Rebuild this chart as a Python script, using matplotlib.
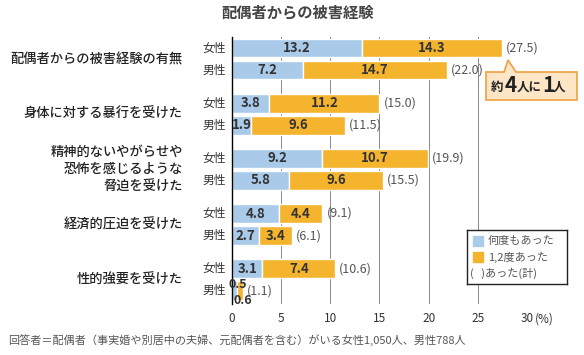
import matplotlib.pyplot as plt
from matplotlib.patches import Polygon, Rectangle

plt.rcParams['font.family'] = ['Noto Sans CJK JP', 'DejaVu Sans']

# --- データ ---
categories = ['配偶者からの被害経験の有無', '身体に対する暴行を受けた',
              '精神的ないやがらせや\n恐怖を感じるような\n脅迫を受けた',
              '経済的圧迫を受けた', '性的強要を受けた']
female_many = [13.2, 3.8, 9.2, 4.8, 3.1]
female_once = [14.3, 11.2, 10.7, 4.4, 7.4]
female_total = ['27.5', '15.0', '19.9', '9.1', '10.6']
male_many = [7.2, 1.9, 5.8, 2.7, 0.5]
male_once = [14.7, 9.6, 9.6, 3.4, 0.6]
male_total = ['22.0', '11.5', '15.5', '6.1', '1.1']
xticks = [0, 5, 10, 15, 20, 25, 30]
xticklabels = ['0', '5', '10', '15', '20', '25', '30']

BLUE = '#a9cbe9'
ORANGE = '#f5b42e'
TXT = '#333333'
GRAY = '#555555'

fig = plt.figure(figsize=(5.84, 3.55), dpi=100)
ax = fig.add_axes([232 / 584, 1 - 304 / 355, 295 / 584, 267 / 355])

H = 0.34
for i in range(len(categories)):
    for sex, many, once, tot, off in [('女性', female_many[i], female_once[i], female_total[i], -0.2),
                                      ('男性', male_many[i], male_once[i], male_total[i], 0.2)]:
        y = i + off
        ax.barh(y, many, height=H, color=BLUE, edgecolor='white', linewidth=1, zorder=2)
        ax.barh(y, once, left=many, height=H, color=ORANGE, edgecolor='white', linewidth=1, zorder=2)
        if many >= 1.5:
            ax.text(many / 2, y, f'{many}', ha='center', va='center', fontsize=9.5,
                    fontweight='bold', color=TXT, zorder=3)
            ax.text(many + once / 2, y, f'{once}', ha='center', va='center', fontsize=9.5,
                    fontweight='bold', color=TXT, zorder=3)
        else:
            # 小さい値は上下にずらして表示
            ax.text(many + 0.05, y - 0.12, f'{many}', ha='center', va='center', fontsize=9,
                    fontweight='bold', color=TXT, zorder=3)
            ax.text(many + once / 2 + 0.3, y + 0.17, f'{once}', ha='center', va='center',
                    fontsize=9, fontweight='bold', color=TXT, zorder=3)
        ax.text(many + once + 0.4, y, f'({tot})', ha='left', va='center', fontsize=9,
                color=GRAY, zorder=3)
        ax.text(-0.6, y, sex, ha='right', va='center', fontsize=8.5, color=TXT)
    ax.text(-5.0, i, categories[i], ha='right', va='center', fontsize=9.5,
            color='#222222', linespacing=1.35, fontweight='medium')

ax.set_xlim(0, 30)
ax.set_ylim(4.44, -0.4)
ax.set_yticks([])
ax.set_xticks(xticks)
ax.set_xticklabels(xticklabels, fontsize=8.5, color=TXT)
ax.tick_params(axis='x', length=0, pad=6)
ax.annotate('(%)', xy=(30, 0), xycoords=('data', 'axes fraction'),
            xytext=(6, -6), textcoords='offset points', ha='left', va='top',
            fontsize=8.5, color=TXT, annotation_clip=False)
for s in ['top', 'right', 'bottom']:
    ax.spines[s].set_visible(False)
ax.spines['left'].set_color('black')
ax.spines['left'].set_linewidth(1)
for x in xticks[1:]:
    ax.axvline(x, color='#888888', linewidth=0.7, zorder=1)

# 凡例
leg = fig.add_axes([467 / 584, 1 - 284 / 355, 100 / 584, 54 / 355])
leg.set_xlim(0, 100)
leg.set_ylim(54, 0)
leg.set_xticks([])
leg.set_yticks([])
for s in leg.spines.values():
    s.set_linewidth(1)
    s.set_color('#222222')
leg.add_patch(Rectangle((6, 6), 10, 10, color=BLUE))
leg.text(21, 11, '何度もあった', va='center', fontsize=8, color=GRAY)
leg.add_patch(Rectangle((6, 22), 10, 10, color=ORANGE))
leg.text(21, 27, '1,2度あった', va='center', fontsize=8, color=GRAY)
leg.text(3, 43, '(   )あった(計)', va='center', fontsize=8, color=GRAY)

# 吹き出し
pts = [(486, 72), (504, 72), (508, 60), (516, 72), (577, 72), (577, 100), (486, 100)]
fig.add_artist(Polygon([(px / 584, 1 - py / 355) for px, py in pts], closed=True,
                       facecolor='#fde6c6', edgecolor='#f0a040', linewidth=1.2,
                       transform=fig.transFigure))
fy = 1 - 87 / 355
fig.text(491 / 584, fy, '約', fontsize=9, fontweight='bold', color='#222222', va='center')
fig.text(505 / 584, fy + 0.004, '4', fontsize=15, fontweight='bold', color='#222222', va='center')
fig.text(517 / 584, fy, '人に', fontsize=9, fontweight='bold', color='#222222', va='center')
fig.text(542 / 584, fy + 0.004, '1', fontsize=15, fontweight='bold', color='#222222', va='center')
fig.text(553 / 584, fy, '人', fontsize=9, fontweight='bold', color='#222222', va='center')

fig.text(298 / 584, 1 - 12 / 355, '配偶者からの被害経験', ha='center', va='center',
         fontsize=11, fontweight='bold', color='#444444')
fig.text(8 / 584, 1 - 340 / 355,
         '回答者＝配偶者（事実婚や別居中の夫婦、元配偶者を含む）がいる女性1,050人、男性788人',
         ha='left', va='center', fontsize=8, color=GRAY)

fig.savefig('out.png', dpi=100)
